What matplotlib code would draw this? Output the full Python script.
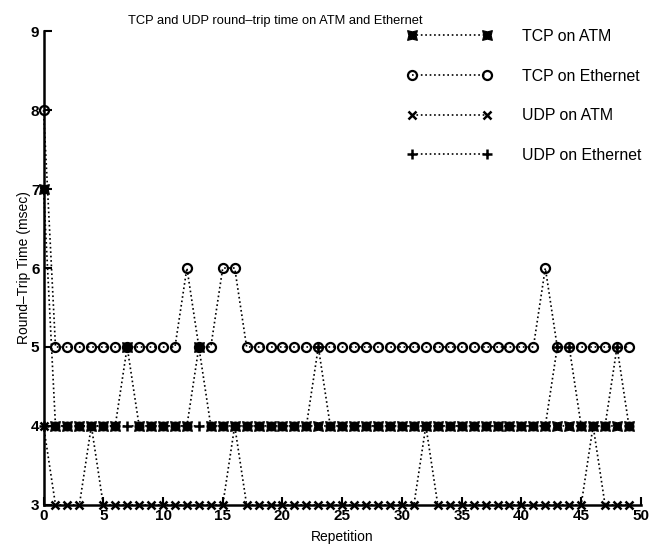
import matplotlib.pyplot as plt
from matplotlib.path import Path

plt.rcParams['font.family'] = ['Liberation Sans', 'DejaVu Sans']

# round-trip times in msec, one value per repetition
repetition = list(range(50))
tcp_atm = [7, 4, 4, 4, 4, 4, 4, 5, 4, 4,
           4, 4, 4, 5, 4, 4, 4, 4, 4, 4,
           4, 4, 4, 4, 4, 4, 4, 4, 4, 4,
           4, 4, 4, 4, 4, 4, 4, 4, 4, 4,
           4, 4, 4, 4, 4, 4, 4, 4, 4, 4]
tcp_eth = [8, 5, 5, 5, 5, 5, 5, 5, 5, 5,
           5, 5, 6, 5, 5, 6, 6, 5, 5, 5,
           5, 5, 5, 5, 5, 5, 5, 5, 5, 5,
           5, 5, 5, 5, 5, 5, 5, 5, 5, 5,
           5, 5, 6, 5, 5, 5, 5, 5, 5, 5]
udp_atm = [4, 3, 3, 3, 4, 3, 3, 3, 3, 3,
           3, 3, 3, 3, 3, 3, 4, 3, 3, 3,
           3, 3, 3, 3, 3, 3, 3, 3, 3, 3,
           3, 3, 4, 3, 3, 3, 3, 3, 3, 3,
           3, 3, 3, 3, 3, 3, 4, 3, 3, 3]
udp_eth = [4, 4, 4, 4, 4, 4, 4, 4, 4, 4,
           4, 4, 4, 4, 4, 4, 4, 4, 4, 4,
           4, 4, 4, 5, 4, 4, 4, 4, 4, 4,
           4, 4, 4, 4, 4, 4, 4, 4, 4, 4,
           4, 4, 4, 5, 5, 4, 4, 4, 5, 4]

x_ticks = [0, 5, 10, 15, 20, 25, 30, 35, 40, 45, 50]
y_ticks = [3, 4, 5, 6, 7, 8, 9]

# chunky asterisk: a block with small notches in each side
notched = Path([(-1, -1), (0, -0.75), (1, -1), (0.75, 0), (1, 1),
                (0, 0.75), (-1, 1), (-0.75, 0), (-1, -1)], closed=True)

fig = plt.figure(figsize=(6.5, 5.47), dpi=100)
ax = fig.add_axes([0.067, 0.077, 0.919, 0.866])

style = dict(color='black', linestyle=':', linewidth=1.2, clip_on=False, zorder=3)
ax.plot(repetition, tcp_atm, marker=notched, markersize=7, markeredgewidth=0.8,
        label='TCP on ATM', **style)
ax.plot(repetition, tcp_eth, marker='o', markersize=6.5, markerfacecolor='none',
        markeredgewidth=1.6, label='TCP on Ethernet', **style)
ax.plot(repetition, udp_atm, marker='x', markersize=6, markeredgewidth=1.8,
        label='UDP on ATM', **style)
ax.plot(repetition, udp_eth, marker='+', markersize=7, markeredgewidth=1.8,
        label='UDP on Ethernet', **style)

ax.set_xlim(0, 50)
ax.set_ylim(3, 9)
ax.set_xticks(x_ticks)
ax.set_yticks(y_ticks)
ax.spines['top'].set_visible(False)
ax.spines['right'].set_visible(False)
ax.spines['left'].set_linewidth(1.8)
ax.spines['bottom'].set_linewidth(1.8)
ax.tick_params(direction='in', length=6, width=1.5, labelsize=11, pad=3)
for lbl in ax.get_xticklabels() + ax.get_yticklabels():
    lbl.set_fontweight('bold')

fig.text(275 / 650, 1 - 21 / 547, 'TCP and UDP round–trip time on ATM and Ethernet',
         fontsize=9.3, ha='center', va='center')
ax.set_xlabel('Repetition', fontsize=10, labelpad=5)
ax.set_ylabel('Round–Trip Time (msec)', fontsize=10, labelpad=0)

fig.legend(loc='upper left', bbox_to_anchor=(0.626, 0.947), frameon=False,
           fontsize=11.4, numpoints=2, handlelength=5.35, handletextpad=1.9,
           labelspacing=1.55, borderpad=0, borderaxespad=0)

fig.savefig('out.png', dpi=100)
